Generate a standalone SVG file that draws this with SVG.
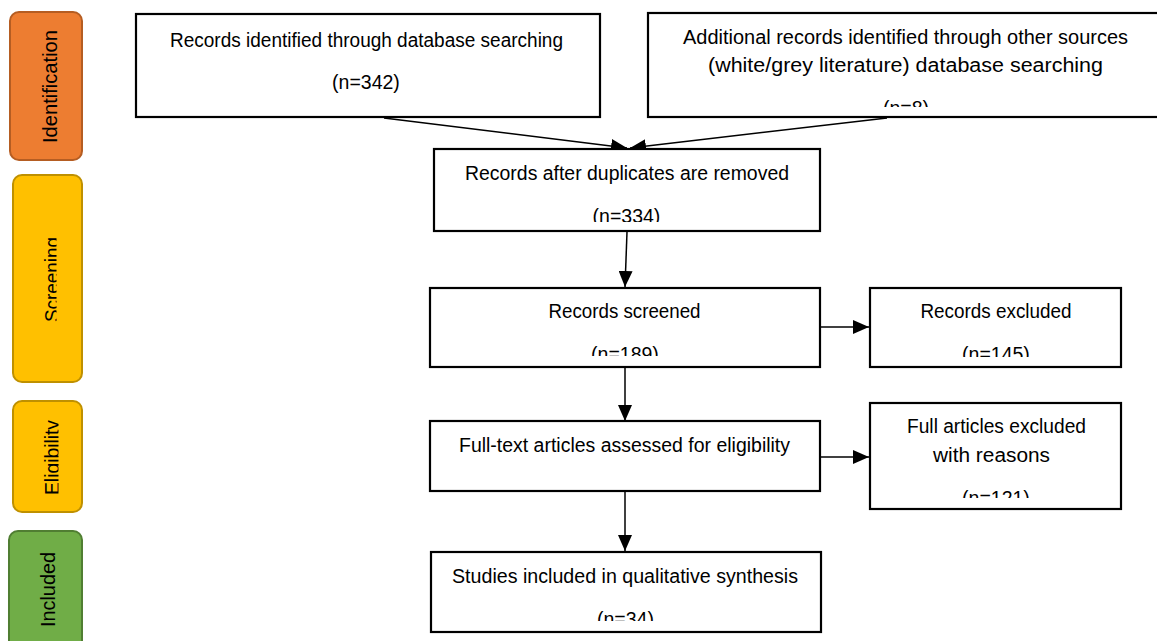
<svg xmlns="http://www.w3.org/2000/svg" width="1157" height="641" viewBox="0 0 1157 641">
<style>
.box{fill:#fff;stroke:#000;stroke-width:2.2}
.t{font-family:"Liberation Sans",Arial,sans-serif;font-size:19.5px;fill:#000;text-anchor:middle}
.lbl{font-family:"Liberation Sans",Arial,sans-serif;font-size:19.5px;fill:#000;text-anchor:middle}
.c{fill:none;stroke:#000;stroke-width:1.5}
</style>
<defs>
<marker id="ah" markerUnits="userSpaceOnUse" markerWidth="16" markerHeight="14" refX="16" refY="7" orient="auto"><path d="M0,0 L16,7 L0,14 z" fill="#000"/></marker>
<clipPath id="cp2"><rect x="648" y="13" width="520" height="94"/></clipPath>
<clipPath id="cp3"><rect x="434" y="149" width="386" height="73"/></clipPath>
<clipPath id="cp4"><rect x="430" y="288" width="390" height="68"/></clipPath>
<clipPath id="cp5"><rect x="870" y="288" width="251" height="69"/></clipPath>
<clipPath id="cp6"><rect x="430" y="421" width="390" height="61"/></clipPath>
<clipPath id="cp7"><rect x="870" y="403" width="251" height="95"/></clipPath>
<clipPath id="cp8"><rect x="431" y="552" width="390" height="69"/></clipPath>
<clipPath id="cps"><rect x="10" y="175" width="46.5" height="210"/></clipPath>
<clipPath id="cpe"><rect x="10" y="401" width="48.5" height="112"/></clipPath>
</defs>

<g id="stage-identification">
<rect x="10" y="12" width="72" height="148" rx="9" fill="#ED7D31" stroke="#B55D22" stroke-width="2"/>
<text class="lbl" transform="translate(57,86.5) rotate(-90)" textLength="113" lengthAdjust="spacingAndGlyphs">Identification</text>
</g>
<g id="stage-screening">
<rect x="13" y="175" width="69" height="207" rx="9" fill="#FFC000" stroke="#BF9000" stroke-width="2"/>
<g clip-path="url(#cps)"><text class="lbl" transform="translate(58.5,279.5) rotate(-90)" textLength="85" lengthAdjust="spacingAndGlyphs">Screening</text></g>
</g>
<g id="stage-eligibility">
<rect x="13" y="401" width="69" height="111" rx="9" fill="#FFC000" stroke="#BF9000" stroke-width="2"/>
<g clip-path="url(#cpe)"><text class="lbl" transform="translate(58.5,457.5) rotate(-90)" textLength="75" lengthAdjust="spacingAndGlyphs">Eligibility</text></g>
</g>
<g id="stage-included">
<rect x="9" y="531" width="73" height="125" rx="9" fill="#70AD47" stroke="#507E32" stroke-width="2"/>
<text class="lbl" transform="translate(55,589.5) rotate(-90)" textLength="75" lengthAdjust="spacingAndGlyphs">Included</text>
</g>

<g id="connectors">
<line class="c" x1="384" y1="118" x2="627" y2="148" marker-end="url(#ah)"/>
<line class="c" x1="887" y1="118" x2="630" y2="148" marker-end="url(#ah)"/>
<line class="c" x1="627" y1="232" x2="625" y2="287" marker-end="url(#ah)"/>
<line class="c" x1="821" y1="327" x2="869" y2="327" marker-end="url(#ah)"/>
<line class="c" x1="625" y1="368" x2="625" y2="421" marker-end="url(#ah)"/>
<line class="c" x1="821" y1="457" x2="869" y2="457" marker-end="url(#ah)"/>
<line class="c" x1="625" y1="492" x2="625" y2="551" marker-end="url(#ah)"/>
</g>

<g id="n-db">
<rect class="box" x="136" y="14" width="464" height="103"/>
<text class="t" x="366.5" y="47" textLength="393" lengthAdjust="spacingAndGlyphs">Records identified through database searching</text>
<text class="t" x="366" y="89">(n=342)</text>
</g>
<g id="n-other">
<rect class="box" x="648" y="13" width="520" height="104"/>
<g clip-path="url(#cp2)">
<text class="t" x="905.5" y="44" textLength="445" lengthAdjust="spacingAndGlyphs">Additional records identified through other sources</text>
<text class="t" x="905.5" y="72" textLength="395" lengthAdjust="spacingAndGlyphs">(white/grey literature) database searching</text>
<text class="t" x="906" y="115">(n=8)</text>
</g>
</g>
<g id="n-dedup">
<rect class="box" x="434" y="149" width="386" height="82"/>
<g clip-path="url(#cp3)">
<text class="t" x="627" y="180" textLength="324" lengthAdjust="spacingAndGlyphs">Records after duplicates are removed</text>
<text class="t" x="626.5" y="223">(n=334)</text>
</g>
</g>
<g id="n-screened">
<rect class="box" x="430" y="288" width="390" height="79"/>
<g clip-path="url(#cp4)">
<text class="t" x="624.5" y="318" textLength="152" lengthAdjust="spacingAndGlyphs">Records screened</text>
<text class="t" x="625" y="361">(n=189)</text>
</g>
</g>
<g id="n-excluded">
<rect class="box" x="870" y="288" width="251" height="79"/>
<g clip-path="url(#cp5)">
<text class="t" x="996" y="318" textLength="151" lengthAdjust="spacingAndGlyphs">Records excluded</text>
<text class="t" x="996" y="361">(n=145)</text>
</g>
</g>
<g id="n-fulltext">
<rect class="box" x="430" y="421" width="390" height="70"/>
<g clip-path="url(#cp6)">
<text class="t" x="624.5" y="452" textLength="331" lengthAdjust="spacingAndGlyphs">Full-text articles assessed for eligibility</text>
<text class="t" x="624.5" y="496.5">(n=44)</text>
</g>
</g>
<g id="n-fullexcl">
<rect class="box" x="870" y="403" width="251" height="106"/>
<g clip-path="url(#cp7)">
<text class="t" x="996.5" y="433" textLength="179" lengthAdjust="spacingAndGlyphs">Full articles excluded</text>
<text class="t" x="991.5" y="462" textLength="117" lengthAdjust="spacingAndGlyphs">with reasons</text>
<text class="t" x="996" y="505">(n=121)</text>
</g>
</g>
<g id="n-included">
<rect class="box" x="431" y="552" width="390" height="80"/>
<g clip-path="url(#cp8)">
<text class="t" x="625" y="583" textLength="346" lengthAdjust="spacingAndGlyphs">Studies included in qualitative synthesis</text>
<text class="t" x="625.5" y="626">(n=34)</text>
</g>
</g>
</svg>
